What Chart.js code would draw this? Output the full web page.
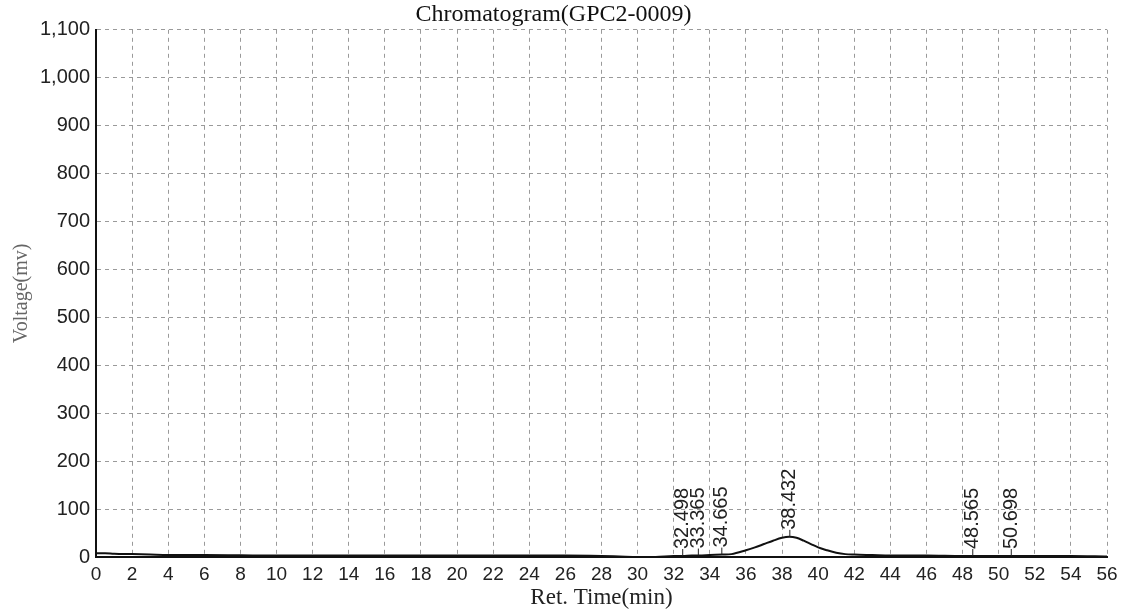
<!DOCTYPE html>
<html>
<head>
<meta charset="utf-8">
<script src="https://cdn.jsdelivr.net/npm/chart.js@4.4.0/dist/chart.umd.min.js"></script>
<style>
  html, body { margin: 0; padding: 0; background: #fff; }
  #wrap { width: 1132px; height: 616px; }
</style>
</head>
<body>
<div id="wrap"><canvas id="chromChart"></canvas></div>
<script>
// retention time (min) and detector voltage (mV)
const retTimes = [0, 0.5, 1, 2, 3, 4, 6, 8, 10, 12, 14, 16, 18, 20, 22, 24, 26, 28, 29, 30, 31, 32, 32.5, 33, 33.4, 34, 34.7, 35.2, 36, 36.5, 37, 37.5, 38, 38.4, 38.8, 39.2, 39.6, 40, 40.5, 41, 41.5, 42, 43, 44, 46, 48, 48.6, 50, 50.7, 52, 54, 56];
const voltages = [8, 8, 7, 6, 5, 4, 4, 3.5, 3, 3, 3, 3, 3, 3, 3, 3, 3, 2, 1, 0, 0, 2, 2, 3, 3, 4, 5, 6, 14, 20, 27, 34, 40, 42, 40, 34, 27, 20, 14, 9, 6, 5, 4, 3, 3, 2, 2, 2, 2, 2, 2, 1];

// detected peaks
const peakTimes = [32.498, 33.365, 34.665, 38.432, 48.565, 50.698];
const peakHeights = [2, 3, 5, 42, 2, 2];
const peakLabels = ['32.498', '33.365', '34.665', '38.432', '48.565', '50.698'];

const points = retTimes.map((t, i) => ({ x: t, y: voltages[i] }));

// Plugin that writes the vertical retention-time label above each peak
const peakLabelPlugin = {
    id: 'peakLabels',
    afterDatasetsDraw(chart) {
        const ctx = chart.ctx;
        const xs = chart.scales.x;
        const ys = chart.scales.y;
        ctx.save();
        ctx.strokeStyle = '#222';
        ctx.fillStyle = '#222';
        ctx.lineWidth = 1;
        ctx.font = '20px "Liberation Sans", Arial, sans-serif';
        ctx.textAlign = 'left';
        ctx.textBaseline = 'middle';
        peakTimes.forEach((t, i) => {
            const px = xs.getPixelForValue(t);
            const py = ys.getPixelForValue(peakHeights[i]);
            ctx.beginPath();
            ctx.moveTo(px, py);
            ctx.lineTo(px, py - 7);
            ctx.stroke();
            ctx.save();
            ctx.translate(px, py - 7);
            ctx.rotate(-Math.PI / 2);
            ctx.fillText(peakLabels[i], 0, 0);
            ctx.restore();
        });
        ctx.restore();
    }
};

const ctx = document.getElementById('chromChart').getContext('2d');
new Chart(ctx, {
    type: 'line',
    data: {
        datasets: [{
            label: 'Chromatogram',
            data: points,
            borderColor: '#111',
            borderWidth: 2,
            pointRadius: 0,
            cubicInterpolationMode: 'monotone',
            fill: false
        }]
    },
    options: {
        responsive: true,
        maintainAspectRatio: false,
        animation: false,
        layout: { padding: { left: 0, right: 25, top: 0, bottom: 0 } },
        plugins: {
            legend: { display: false },
            tooltip: { enabled: false },
            title: {
                display: true,
                text: 'Chromatogram(GPC2-0009)',
                color: '#111',
                font: { family: '"Liberation Serif", "Times New Roman", serif', size: 24, weight: 'normal' },
                padding: { top: 0, bottom: 1 }
            }
        },
        scales: {
            x: {
                type: 'linear',
                min: 0,
                max: 56,
                ticks: {
                    stepSize: 2,
                    color: '#222',
                    padding: 6,
                    font: { family: '"Liberation Sans", Arial, sans-serif', size: 19 }
                },
                grid: {
                    color: '#9a9a9a',
                    lineWidth: 1,
                    drawTicks: false
                },
                border: { color: '#111', width: 2, dash: [4, 4] },
                title: {
                    display: true,
                    text: 'Ret. Time(min)',
                    color: '#222',
                    padding: { top: 0, bottom: 4 },
                    font: { family: '"Liberation Serif", "Times New Roman", serif', size: 23 }
                },
                afterFit(scale) { scale.height = 59; }
            },
            y: {
                min: 0,
                max: 1100,
                ticks: {
                    stepSize: 100,
                    color: '#222',
                    padding: 6,
                    font: { family: '"Liberation Sans", Arial, sans-serif', size: 20 },
                    callback: (v) => v.toLocaleString('en-US')
                },
                grid: {
                    color: '#9a9a9a',
                    lineWidth: 1,
                    drawTicks: false
                },
                border: { color: '#111', width: 2, dash: [4, 4] },
                title: {
                    display: true,
                    text: 'Voltage(mv)',
                    color: '#666',
                    padding: { top: 10, bottom: 0 },
                    font: { family: '"Liberation Serif", "Times New Roman", serif', size: 20 }
                },
                afterFit(scale) { scale.width = 96; }
            }
        }
    },
    plugins: [peakLabelPlugin]
});
</script>
</body>
</html>
